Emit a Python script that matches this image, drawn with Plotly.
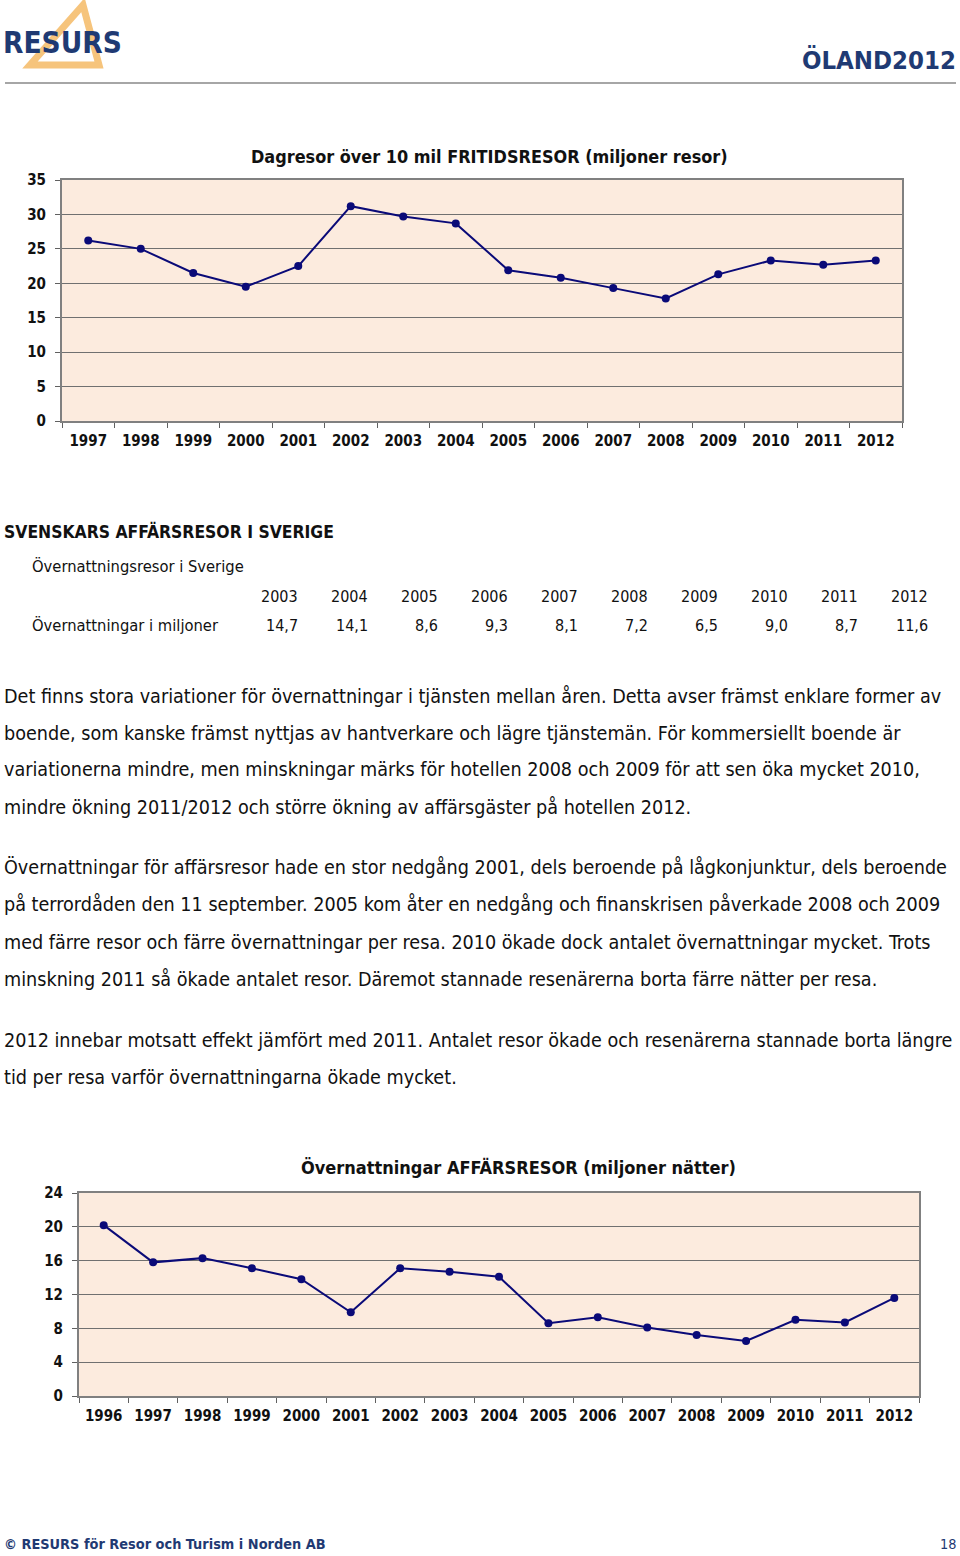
import plotly.graph_objects as go

# ---------------- data ----------------
years_fritid = ["1997", "1998", "1999", "2000", "2001", "2002", "2003", "2004",
                "2005", "2006", "2007", "2008", "2009", "2010", "2011", "2012"]
fritid_values = [26.2, 25.0, 21.5, 19.5, 22.5, 31.2, 29.7, 28.7,
                 21.9, 20.8, 19.3, 17.8, 21.3, 23.3, 22.7, 23.3]

years_affars = ["1996", "1997", "1998", "1999", "2000", "2001", "2002", "2003",
                "2004", "2005", "2006", "2007", "2008", "2009", "2010", "2011", "2012"]
affars_values = [20.2, 15.8, 16.3, 15.1, 13.8, 9.9, 15.1, 14.7,
                 14.1, 8.6, 9.3, 8.1, 7.2, 6.5, 9.0, 8.7, 11.6]

table_years = ["2003", "2004", "2005", "2006", "2007", "2008", "2009", "2010", "2011", "2012"]
table_values = [14.7, 14.1, 8.6, 9.3, 8.1, 7.2, 6.5, 9.0, 8.7, 11.6]

fritid_ticks = [0, 5, 10, 15, 20, 25, 30, 35]
affars_ticks = [0, 4, 8, 12, 16, 20, 24]

paragraphs = [
    ["Det finns stora variationer för övernattningar i tjänsten mellan åren. Detta avser främst enklare former av",
     "boende, som kanske främst nyttjas av hantverkare och lägre tjänstemän. För kommersiellt boende är",
     "variationerna mindre, men minskningar märks för hotellen 2008 och 2009 för att sen öka mycket 2010,",
     "mindre ökning 2011/2012 och större ökning av affärsgäster på hotellen 2012."],
    ["Övernattningar för affärsresor hade en stor nedgång 2001, dels beroende på lågkonjunktur, dels beroende",
     "på terrordåden den 11 september. 2005 kom åter en nedgång och finanskrisen påverkade 2008 och 2009",
     "med färre resor och färre övernattningar per resa. 2010 ökade dock antalet övernattningar mycket. Trots",
     "minskning 2011 så ökade antalet resor. Däremot stannade resenärerna borta färre nätter per resa."],
    ["2012 innebar motsatt effekt jämfört med 2011. Antalet resor ökade och resenärerna stannade borta längre",
     "tid per resa varför övernattningarna ökade mycket."],
]

# ---------------- helpers ----------------
W, H = 960, 1556
NAVY = "#1F3A73"
LINE = "#0A0A78"
BG = "#FCEBDE"
FONT = "DejaVu Sans, sans-serif"
COND = "DejaVu Sans Condensed, DejaVu Sans, sans-serif"


def px(x):
    return x / W


def py(y):
    return 1 - y / H


fig = go.Figure()

fig.add_trace(go.Scatter(
    x=years_fritid, y=fritid_values, mode="lines+markers",
    line=dict(color=LINE, width=2), marker=dict(color=LINE, size=8),
    xaxis="x", yaxis="y", showlegend=False, hoverinfo="x+y"))

fig.add_trace(go.Scatter(
    x=years_affars, y=affars_values, mode="lines+markers",
    line=dict(color=LINE, width=2), marker=dict(color=LINE, size=8),
    xaxis="x2", yaxis="y2", showlegend=False, hoverinfo="x+y"))

tickfont = dict(family=COND, size=15, color="#111111", weight="bold")
axis_common = dict(showline=True, linecolor="#808080", linewidth=2, mirror=True,
                   ticks="outside", ticklen=5, tickcolor="#606060", tickwidth=1,
                   tickfont=tickfont, zeroline=False, fixedrange=True)

fig.update_layout(
    width=W, height=H,
    margin=dict(l=0, r=0, t=0, b=0, autoexpand=False),
    paper_bgcolor="white",
    plot_bgcolor=BG,
    showlegend=False,
    xaxis=dict(domain=[px(62), px(902)], anchor="y", type="category",
               range=[-0.5, len(years_fritid) - 0.5],
               tickson="boundaries", showgrid=False, ticklabelstandoff=5, **axis_common),
    yaxis=dict(domain=[py(421), py(180)], anchor="x", range=[0, 35],
               tickvals=fritid_ticks, showgrid=True, gridcolor="#707070", gridwidth=1,
               ticklabelstandoff=6, **axis_common),
    xaxis2=dict(domain=[px(79), px(919)], anchor="y2", type="category",
                range=[-0.5, len(years_affars) - 0.5],
                tickson="boundaries", showgrid=False, ticklabelstandoff=5, **axis_common),
    yaxis2=dict(domain=[py(1396), py(1193)], anchor="x2", range=[0, 24],
                tickvals=affars_ticks, showgrid=True, gridcolor="#707070", gridwidth=1,
                ticklabelstandoff=6, **axis_common),
)

ann = []


def text(x, y, s, size, color="#111111", family=FONT, weight="normal", xanchor="left"):
    ann.append(dict(x=px(x), y=py(y), xref="paper", yref="paper", text=s, showarrow=False,
                    xanchor=xanchor, yanchor="middle", borderpad=0,
                    font=dict(family=family, size=size, color=color, weight=weight)))


# header
text(2, 43, "RESURS", 29.5, color=NAVY, family=COND, weight="bold")
text(957, 60, "ÖLAND2012", 25.5, color=NAVY, family=COND, weight="bold", xanchor="right")

# chart titles
text(489, 157, "Dagresor över 10 mil FRITIDSRESOR (miljoner resor)", 17.9, weight="bold",
     family=COND, xanchor="center")
text(518, 1167, "Övernattningar AFFÄRSRESOR (miljoner nätter)", 18, weight="bold",
     family=COND, xanchor="center")

# section heading and table
text(3, 531, "SVENSKARS AFFÄRSRESOR I SVERIGE", 17.4, family=COND, weight="bold")
text(31, 566, "Övernattningsresor i Sverige", 16.4, family=COND)
text(31, 626, "Övernattningar i miljoner", 16.4, family=COND)
for i, (yr, v) in enumerate(zip(table_years, table_values)):
    text(299 + 70 * i, 596, yr, 16, family=COND, xanchor="right")
    text(299 + 70 * i, 626, f"{v:.1f}".replace(".", ","), 16, family=COND, xanchor="right")

# paragraphs
line_y = [[696, 733, 770, 807], [868, 905, 942, 979], [1040, 1077]]
for para, ys in zip(paragraphs, line_y):
    for s, y in zip(para, ys):
        text(3, y, s, 19.6, family=COND)

# footer
text(3, 1544, "© RESURS för Resor och Turism i Norden AB", 14.4, color=NAVY, family=COND, weight="bold")
text(957, 1544, "18", 14.4, color=NAVY, family=COND, xanchor="right")

fig.update_layout(annotations=ann)

# logo triangle and header rule
fig.add_shape(type="path", xref="paper", yref="paper",
              path=f"M {px(83)} {py(5)} L {px(30)} {py(65)} L {px(99)} {py(65)} Z",
              line=dict(color="#F6C47C", width=7), fillcolor="rgba(0,0,0,0)", layer="below")
fig.add_shape(type="line", xref="paper", yref="paper",
              x0=px(5), x1=px(956), y0=py(83), y1=py(83),
              line=dict(color="#A6A6A6", width=2))

fig.write_html("out.html",
               post_script="document.documentElement.style.margin='0';"
                           "document.body.style.margin='0';document.body.style.padding='0';")
